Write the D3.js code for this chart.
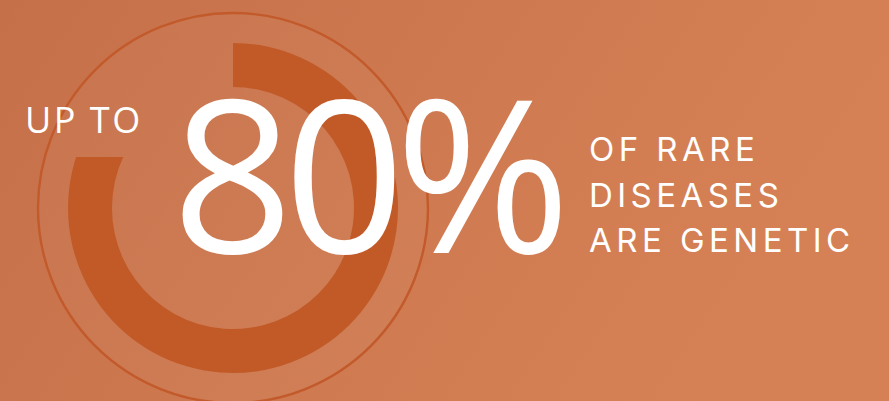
<!DOCTYPE html>
<html>
<head>
<meta charset="utf-8">
<script src="https://cdn.jsdelivr.net/npm/d3@7"></script>
<style>
  html, body { margin: 0; padding: 0; background: #cb7550; }
  svg { display: block; }
</style>
</head>
<body>
<svg id="chart" width="889" height="401"></svg>
<script>
const W = 889, H = 401
const value = [80]            // percent of rare diseases that are genetic
const prefix = ['UP TO']
const bigLabel = ['80%']
const caption = ['OF RARE', 'DISEASES', 'ARE GENETIC']

const CX = 233, CY = 208
const R_RING = 195
const R_OUT = 165, R_IN = 121

const svg = d3.select('#chart')
const defs = svg.append('defs')

const bg = defs.append('linearGradient').attr('id', 'bg').attr('x1', '0%').attr('y1', '0%').attr('x2', '100%').attr('y2', '30%')
bg.append('stop').attr('offset', '0%').attr('stop-color', '#c6704a')
bg.append('stop').attr('offset', '100%').attr('stop-color', '#d68155')
svg.append('rect').attr('width', W).attr('height', H).attr('fill', 'url(#bg)')

// faint disc + ring
svg.append('circle').attr('cx', CX).attr('cy', CY).attr('r', R_RING)
  .attr('fill', '#ffffff').attr('fill-opacity', 0.03)
  .attr('stroke', '#c25a2b').attr('stroke-width', 2.4)

// progress arc, value from data; the end is cut horizontally at the outer end point
const pct = d3.scaleLinear().domain([0, 100]).range([0, 2 * Math.PI])
const endA = pct(value[0])
const yCut = CY - R_OUT * Math.cos(endA)
const extA = 2 * Math.PI - Math.acos(Math.min(1, R_OUT * Math.cos(endA) / R_IN))

defs.append('clipPath').attr('id', 'cut').append('path')
  .attr('d', `M0,0H${W}V${H}H0Z M0,0V${yCut}H${CX}V0Z`).attr('clip-rule', 'evenodd')

const arc = d3.arc().innerRadius(R_IN).outerRadius(R_OUT)
svg.append('g').attr('clip-path', 'url(#cut)')
  .append('path')
  .attr('transform', `translate(${CX},${CY})`)
  .attr('d', arc({ startAngle: 0, endAngle: Math.max(endA, extA) }))
  .attr('fill', '#c25a28')

const txt = svg.append('g').attr('fill', '#ffffff')

txt.append('text').attr('x', 25).attr('y', 133)
  .attr('font-family', '"Open Sans", sans-serif')
  .attr('font-size', 36).attr('font-weight', 400).attr('letter-spacing', '0.07em')
  .text(prefix[0])

txt.append('text').attr('x', 172).attr('y', 253)
  .attr('font-family', '"Open Sans", sans-serif')
  .attr('font-size', 212).attr('font-weight', 400).attr('letter-spacing', '-0.045em')
  .text(bigLabel[0])

txt.selectAll('text.cap').data(caption).join('text').attr('class', 'cap')
  .attr('x', 589).attr('y', (d, i) => 161 + i * 45.5)
  .attr('font-family', 'Inter, "Noto Sans", sans-serif')
  .attr('font-size', 33).attr('font-weight', 400).attr('letter-spacing', '0.135em')
  .text(d => d)
</script>
</body>
</html>
